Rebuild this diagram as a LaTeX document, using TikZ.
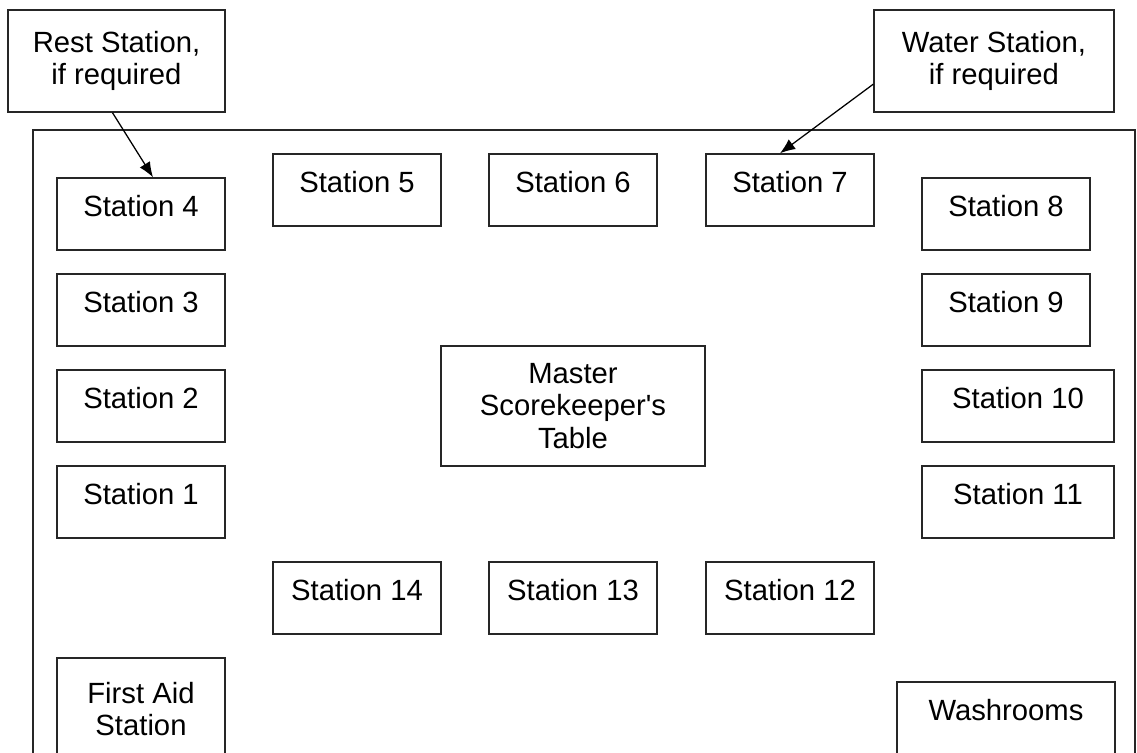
\documentclass[tikz,border=0pt]{standalone}
\usepackage{fontspec}
\setmainfont{Liberation Sans}
\usepackage{tikz}
\usetikzlibrary{arrows.meta}

\tikzset{
  box/.style={draw=black!85, line width=1pt, align=center,
    font=\fontsize{20.8}{23}\selectfont, inner sep=0pt},
  stationbox/.style={box, minimum width=4.2cm, minimum height=1.8cm,
    text height=0.55cm, text depth=0.43cm},
  pointer/.style={-{Latex[length=0.38cm, width=0.3cm]}, line width=0.9pt},
}

\begin{document}
\begin{tikzpicture}[x=0.025cm, y=-0.025cm]
  \useasboundingbox (0,0) rectangle (1137,753);
  \clip (0,0) rectangle (1137,753);
  % the hall
  \draw[black!85, line width=1pt] (33,130) rectangle (1135,800);

  \node[box, minimum width=5.43cm, minimum height=2.55cm] (rest) at (116.5,61) {Rest Station,\\if required};
  \node[box, minimum width=6cm, minimum height=2.55cm] (water) at (994,61) {Water Station,\\if required};

  \node[stationbox] (st4) at (141,214) {Station 4};
  \node[stationbox] (st3) at (141,310) {Station 3};
  \node[stationbox] (st2) at (141,406) {Station 2};
  \node[stationbox] (st1) at (141,502) {Station 1};

  \node[stationbox] (st5) at (357,190) {Station 5};
  \node[stationbox] (st6) at (573,190) {Station 6};
  \node[stationbox] (st7) at (790,190) {Station 7};

  \node[stationbox] (st8) at (1006,214) {Station 8};
  \node[stationbox] (st9) at (1006,310) {Station 9};
  \node[stationbox, minimum width=4.8cm] (st10) at (1018,406) {Station 10};
  \node[stationbox, minimum width=4.8cm] (st11) at (1018,502) {Station 11};

  \node[stationbox] (st14) at (357,598) {Station 14};
  \node[stationbox] (st13) at (573,598) {Station 13};
  \node[stationbox] (st12) at (790,598) {Station 12};

  \node[box, minimum width=6.6cm, minimum height=3cm] (master) at (573,406) {Master\\Scorekeeper\textquotesingle s\\Table};

  \node[box, minimum width=4.2cm, minimum height=2.55cm] (aid) at (141,709) {First Aid\\Station};
  \node[stationbox, minimum width=5.45cm] (wash) at (1006,718) {Washrooms};

  \draw[pointer] ([xshift=-0.1cm]rest.south) -- ([xshift=0.3cm]st4.north);
  \draw[pointer] ([yshift=-0.58cm]water.west) -- ([xshift=-0.25cm]st7.north);
\end{tikzpicture}
\end{document}
